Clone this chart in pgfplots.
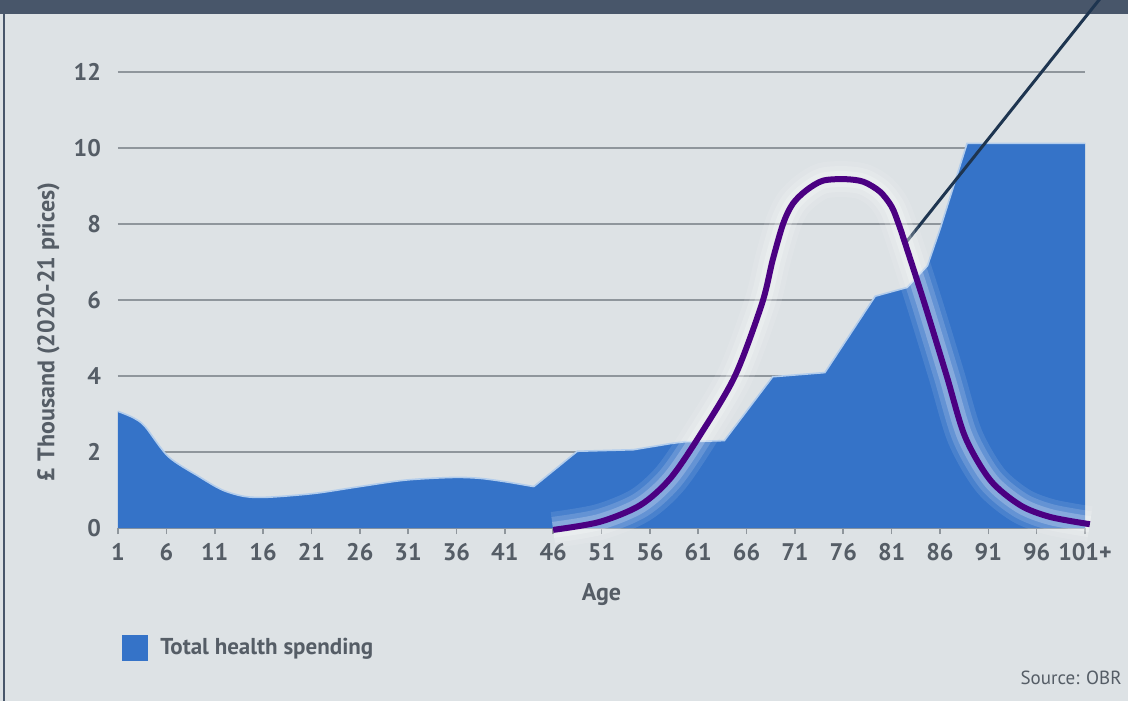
\documentclass[border=0pt]{standalone}
\usepackage{fontspec}
\setmainfont{PT Sans}
\usepackage{pgfplots}
\pgfplotsset{compat=1.18}
\usepackage{pgfplotstable}

\definecolor{bg}{HTML}{DDE2E5}
\definecolor{header}{HTML}{48566A}
\definecolor{areablue}{HTML}{3573C8}
\definecolor{edgeblue}{HTML}{B3CDEC}
\definecolor{gridgray}{HTML}{8F969C}
\definecolor{tickgray}{HTML}{555D66}
\definecolor{curve}{HTML}{4B0082}
\definecolor{pointer}{HTML}{1E3550}

% spending by age, smooth part (1-44) and straight part (44-101+)
\pgfplotstableread{
age val
1    3.07
2.6  2.90
3.8  2.67
6.2  1.88
9.4  1.35
11.8 1.00
14.1 0.83
16.5 0.81
21.3 0.91
26   1.09
30.7 1.26
35.5 1.33
38.3 1.31
41   1.22
44   1.09
}\young
\pgfplotstableread{
age val
44   1.09
48.5 2.02
54.3 2.06
58.1 2.22
59.6 2.27
63.7 2.30
68.7 3.98
74.1 4.09
79.3 6.10
82.6 6.33
84.7 6.90
86   7.86
88.8 10.12
101  10.12
}\old
% hand-drawn bell curve
\pgfplotstableread{
age val
46   -0.05
50.8 0.16
55   0.60
58.1 1.30
61.2 2.45
64.8 4.00
67.6 5.91
68.7 7.05
69.8 8.02
70.8 8.54
72.2 8.89
73.9 9.14
76.2 9.18
78.1 9.11
79.8 8.85
81.0 8.46
81.7 8.02
82.4 7.49
84.4 5.91
86.7 4.00
88.6 2.40
91.2 1.26
94.3 0.60
97.4 0.29
101.5 0.10
}\bell
\pgfplotstableread{
age val
82.5  7.52
103.4 14.2
}\pointerline

\newcommand\tickfont{\fontsize{12}{14}\selectfont\bfseries}

\begin{document}
\begin{tikzpicture}
  \path[use as bounding box] (-59pt,-86.5pt) rectangle (505pt,264pt);
  \fill[bg] (-59pt,-86.5pt) rectangle (505pt,264pt);
  \fill[header] (-59pt,257pt) rectangle (505pt,264pt);
  \fill[header] (-57.5pt,-86.5pt) rectangle (-56.5pt,264pt);

  \begin{axis}[
    scale only axis,
    width=483.5pt, height=228pt,
    xmin=1, xmax=101, ymin=0, ymax=12,
    clip=false,
    axis line style={draw=none},
    tickpos=left,
    tick align=outside,
    major tick length=3pt,
    xtick={1,6,...,101},
    xticklabels={1,6,11,16,21,26,31,36,41,46,51,56,61,66,71,76,81,86,91,96,101+},
    ytick={0,2,...,12},
    yticklabels={0,2,4,6,8,10,12},
    ymajorgrids,
    major grid style={gridgray, line width=1pt},
    xtick style={gridgray, line width=0.8pt},
    ytick style={draw=none},
    /pgf/number format/assume math mode=true,
    xticklabel style={font=\tickfont, text=tickgray, yshift=-1pt},
    yticklabel style={font=\tickfont, text=tickgray, xshift=-2pt},
    xlabel={Age},
    xlabel style={at={(axis description cs:0.5,-0.147)}, anchor=center,
      font=\tickfont, text=tickgray},
    ylabel={£ Thousand (2020-21 prices)},
    ylabel style={at={(axis description cs:-0.072,0.43)}, anchor=center,
      rotate=0, font=\tickfont, text=tickgray},
    legend style={at={(axis description cs:0.004,-0.263)}, anchor=west,
      draw=none, fill=none, font=\fontsize{11.5}{13}\selectfont\bfseries,
      text=tickgray, inner sep=0pt,
      nodes={inner xsep=6pt}},
  ]
    \addplot[fill=areablue, draw=none, smooth,
      legend image code/.code={\fill[areablue] (0pt,-6.5pt) rectangle (13pt,6.5pt);}]
      table[x=age, y=val] {\young} \closedcycle;
    \addlegendentry{Total health spending}
    \addplot[fill=areablue, draw=none, forget plot]
      table[x=age, y=val] {\old} \closedcycle;
    \addplot[edgeblue, line width=0.8pt, smooth, forget plot]
      table[x=age, y=val] {\young};
    \addplot[edgeblue, line width=0.8pt, forget plot]
      table[x=age, y=val] {\old};

    \addplot[pointer, line width=1.5pt, forget plot]
      table[x=age, y=val] {\pointerline};

    \addplot[white, opacity=0.10, line width=18pt, smooth, forget plot]
      table[x=age, y=val] {\bell};
    \addplot[white, opacity=0.15, line width=13pt, smooth, forget plot]
      table[x=age, y=val] {\bell};
    \addplot[white, opacity=0.22, line width=8pt, smooth, forget plot]
      table[x=age, y=val] {\bell};
    \addplot[curve, line width=3pt, smooth, forget plot]
      table[x=age, y=val] {\bell};
  \end{axis}

  \node[anchor=east, inner sep=0pt, font=\fontsize{9.5}{11}\selectfont, text=tickgray]
    at (502pt,-75pt) {Source: OBR};
\end{tikzpicture}
\end{document}
